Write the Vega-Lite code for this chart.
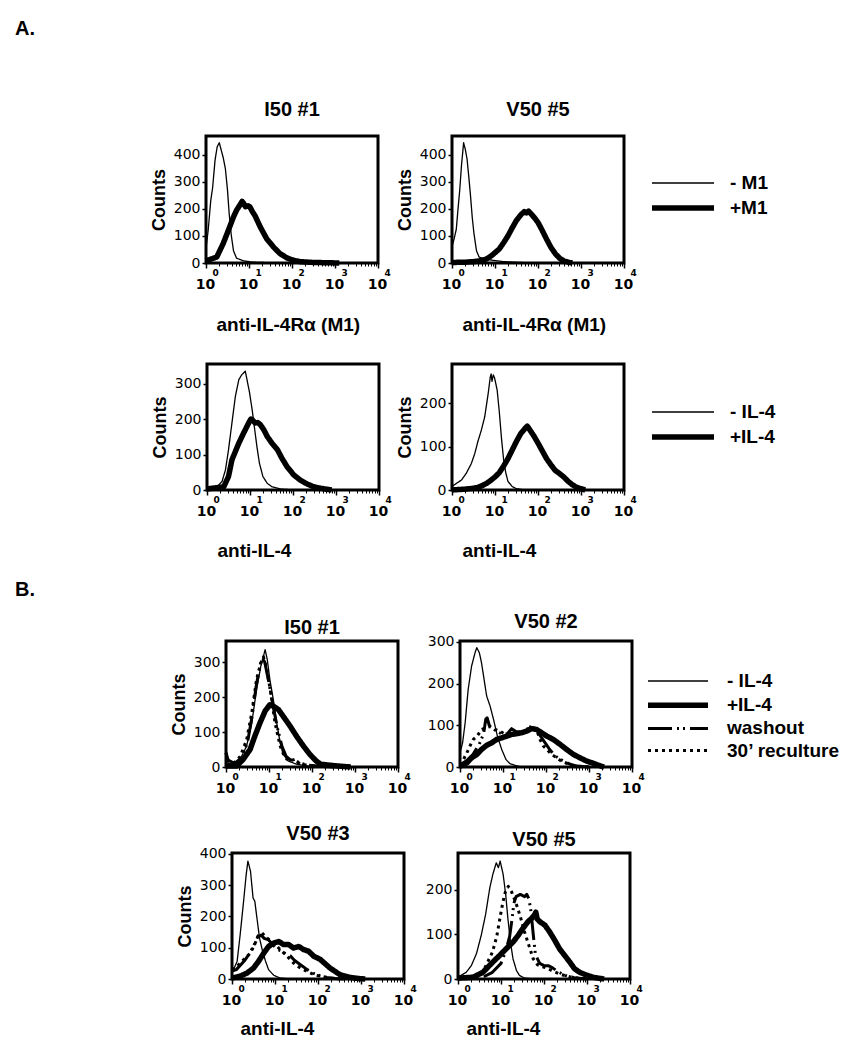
{
"$schema": "https://vega.github.io/schema/vega-lite/v6.json",
"padding": {"left": 15, "top": 19, "right": 5, "bottom": 5},
"background": "white",
"datasets": {
"a1": [
{"series":"- M1","decade":0,"count":55},{"series":"- M1","decade":0.05,"count":120},{"series":"- M1","decade":0.11,"count":230},{"series":"- M1","decade":0.155,"count":280},{"series":"- M1","decade":0.21,"count":380},{"series":"- M1","decade":0.26,"count":430},{"series":"- M1","decade":0.31,"count":445},{"series":"- M1","decade":0.35,"count":420},{"series":"- M1","decade":0.4,"count":390},{"series":"- M1","decade":0.45,"count":350},{"series":"- M1","decade":0.5,"count":270},{"series":"- M1","decade":0.54,"count":180},{"series":"- M1","decade":0.59,"count":100},{"series":"- M1","decade":0.64,"count":45},{"series":"- M1","decade":0.71,"count":18},{"series":"- M1","decade":0.87,"count":8},{"series":"- M1","decade":1.1,"count":3},{"series":"- M1","decade":1.5,"count":1},{"series":"- M1","decade":2,"count":0},{"series":"- M1","decade":3,"count":0},
{"series":"+M1","decade":0,"count":8},{"series":"+M1","decade":0.25,"count":22},{"series":"+M1","decade":0.4,"count":72},{"series":"+M1","decade":0.52,"count":121},{"series":"+M1","decade":0.64,"count":171},{"series":"+M1","decade":0.71,"count":195},{"series":"+M1","decade":0.79,"count":215},{"series":"+M1","decade":0.84,"count":228},{"series":"+M1","decade":0.87,"count":222},{"series":"+M1","decade":0.92,"count":208},{"series":"+M1","decade":0.98,"count":212},{"series":"+M1","decade":1.02,"count":208},{"series":"+M1","decade":1.08,"count":190},{"series":"+M1","decade":1.14,"count":175},{"series":"+M1","decade":1.26,"count":134},{"series":"+M1","decade":1.41,"count":90},{"series":"+M1","decade":1.57,"count":59},{"series":"+M1","decade":1.72,"count":35},{"series":"+M1","decade":1.88,"count":19},{"series":"+M1","decade":2.03,"count":10},{"series":"+M1","decade":2.19,"count":5},{"series":"+M1","decade":2.5,"count":2},{"series":"+M1","decade":3.1,"count":0}
],
"a2": [
{"series":"- M1","decade":0,"count":60},{"series":"- M1","decade":0.05,"count":90},{"series":"- M1","decade":0.1,"count":125},{"series":"- M1","decade":0.14,"count":200},{"series":"- M1","decade":0.18,"count":270},{"series":"- M1","decade":0.22,"count":360},{"series":"- M1","decade":0.27,"count":445},{"series":"- M1","decade":0.31,"count":420},{"series":"- M1","decade":0.35,"count":385},{"series":"- M1","decade":0.39,"count":320},{"series":"- M1","decade":0.43,"count":250},{"series":"- M1","decade":0.47,"count":170},{"series":"- M1","decade":0.51,"count":110},{"series":"- M1","decade":0.57,"count":45},{"series":"- M1","decade":0.63,"count":22},{"series":"- M1","decade":0.76,"count":15},{"series":"- M1","decade":0.95,"count":10},{"series":"- M1","decade":1.2,"count":5},{"series":"- M1","decade":1.6,"count":2},{"series":"- M1","decade":2,"count":0},
{"series":"+M1","decade":0,"count":2},{"series":"+M1","decade":0.3,"count":3},{"series":"+M1","decade":0.5,"count":5},{"series":"+M1","decade":0.6,"count":7},{"series":"+M1","decade":0.7,"count":9},{"series":"+M1","decade":0.8,"count":15},{"series":"+M1","decade":0.9,"count":25},{"series":"+M1","decade":1.0,"count":38},{"series":"+M1","decade":1.1,"count":52},{"series":"+M1","decade":1.2,"count":75},{"series":"+M1","decade":1.3,"count":100},{"series":"+M1","decade":1.4,"count":130},{"series":"+M1","decade":1.5,"count":158},{"series":"+M1","decade":1.6,"count":178},{"series":"+M1","decade":1.68,"count":190},{"series":"+M1","decade":1.73,"count":185},{"series":"+M1","decade":1.78,"count":192},{"series":"+M1","decade":1.85,"count":180},{"series":"+M1","decade":1.93,"count":165},{"series":"+M1","decade":2.0,"count":150},{"series":"+M1","decade":2.1,"count":120},{"series":"+M1","decade":2.2,"count":88},{"series":"+M1","decade":2.3,"count":58},{"series":"+M1","decade":2.4,"count":35},{"series":"+M1","decade":2.5,"count":18},{"series":"+M1","decade":2.6,"count":8},{"series":"+M1","decade":2.7,"count":3},{"series":"+M1","decade":2.8,"count":0}
],
"a3": [
{"series":"- IL-4","decade":0,"count":5},{"series":"- IL-4","decade":0.23,"count":9},{"series":"- IL-4","decade":0.35,"count":24},{"series":"- IL-4","decade":0.43,"count":57},{"series":"- IL-4","decade":0.5,"count":113},{"series":"- IL-4","decade":0.58,"count":189},{"series":"- IL-4","decade":0.66,"count":264},{"series":"- IL-4","decade":0.74,"count":311},{"series":"- IL-4","decade":0.81,"count":325},{"series":"- IL-4","decade":0.87,"count":332},{"series":"- IL-4","decade":0.89,"count":335},{"series":"- IL-4","decade":0.93,"count":311},{"series":"- IL-4","decade":0.99,"count":274},{"series":"- IL-4","decade":1.05,"count":226},{"series":"- IL-4","decade":1.1,"count":179},{"series":"- IL-4","decade":1.16,"count":123},{"series":"- IL-4","decade":1.22,"count":75},{"series":"- IL-4","decade":1.3,"count":38},{"series":"- IL-4","decade":1.4,"count":19},{"series":"- IL-4","decade":1.51,"count":9},{"series":"- IL-4","decade":1.7,"count":3},{"series":"- IL-4","decade":2,"count":0},
{"series":"+IL-4","decade":0,"count":3},{"series":"+IL-4","decade":0.39,"count":9},{"series":"+IL-4","decade":0.5,"count":38},{"series":"+IL-4","decade":0.58,"count":85},{"series":"+IL-4","decade":0.74,"count":132},{"series":"+IL-4","decade":0.85,"count":160},{"series":"+IL-4","decade":0.97,"count":189},{"series":"+IL-4","decade":1.02,"count":200},{"series":"+IL-4","decade":1.05,"count":198},{"series":"+IL-4","decade":1.12,"count":189},{"series":"+IL-4","decade":1.18,"count":190},{"series":"+IL-4","decade":1.24,"count":184},{"series":"+IL-4","decade":1.32,"count":170},{"series":"+IL-4","decade":1.4,"count":151},{"series":"+IL-4","decade":1.51,"count":132},{"series":"+IL-4","decade":1.64,"count":113},{"series":"+IL-4","decade":1.74,"count":90},{"series":"+IL-4","decade":1.86,"count":66},{"series":"+IL-4","decade":2.02,"count":42},{"series":"+IL-4","decade":2.17,"count":28},{"series":"+IL-4","decade":2.33,"count":17},{"series":"+IL-4","decade":2.48,"count":9},{"series":"+IL-4","decade":2.64,"count":5},{"series":"+IL-4","decade":2.9,"count":0}
],
"a4": [
{"series":"- IL-4","decade":0,"count":8},{"series":"- IL-4","decade":0.1,"count":15},{"series":"- IL-4","decade":0.22,"count":23},{"series":"- IL-4","decade":0.33,"count":38},{"series":"- IL-4","decade":0.45,"count":61},{"series":"- IL-4","decade":0.53,"count":84},{"series":"- IL-4","decade":0.6,"count":111},{"series":"- IL-4","decade":0.68,"count":137},{"series":"- IL-4","decade":0.76,"count":168},{"series":"- IL-4","decade":0.84,"count":221},{"series":"- IL-4","decade":0.89,"count":260},{"series":"- IL-4","decade":0.91,"count":267},{"series":"- IL-4","decade":0.93,"count":250},{"series":"- IL-4","decade":0.96,"count":265},{"series":"- IL-4","decade":0.99,"count":258},{"series":"- IL-4","decade":1.05,"count":230},{"series":"- IL-4","decade":1.1,"count":180},{"series":"- IL-4","decade":1.15,"count":120},{"series":"- IL-4","decade":1.2,"count":70},{"series":"- IL-4","decade":1.25,"count":40},{"series":"- IL-4","decade":1.3,"count":20},{"series":"- IL-4","decade":1.4,"count":8},{"series":"- IL-4","decade":1.5,"count":3},{"series":"- IL-4","decade":1.7,"count":0},
{"series":"+IL-4","decade":0,"count":0},{"series":"+IL-4","decade":0.3,"count":2},{"series":"+IL-4","decade":0.5,"count":4},{"series":"+IL-4","decade":0.6,"count":6},{"series":"+IL-4","decade":0.7,"count":10},{"series":"+IL-4","decade":0.8,"count":15},{"series":"+IL-4","decade":0.9,"count":22},{"series":"+IL-4","decade":1.0,"count":30},{"series":"+IL-4","decade":1.1,"count":40},{"series":"+IL-4","decade":1.2,"count":55},{"series":"+IL-4","decade":1.3,"count":72},{"series":"+IL-4","decade":1.4,"count":92},{"series":"+IL-4","decade":1.5,"count":112},{"series":"+IL-4","decade":1.6,"count":130},{"series":"+IL-4","decade":1.7,"count":142},{"series":"+IL-4","decade":1.75,"count":147},{"series":"+IL-4","decade":1.8,"count":140},{"series":"+IL-4","decade":1.9,"count":125},{"series":"+IL-4","decade":2.0,"count":108},{"series":"+IL-4","decade":2.1,"count":90},{"series":"+IL-4","decade":2.2,"count":72},{"series":"+IL-4","decade":2.3,"count":58},{"series":"+IL-4","decade":2.4,"count":45},{"series":"+IL-4","decade":2.5,"count":38},{"series":"+IL-4","decade":2.6,"count":30},{"series":"+IL-4","decade":2.7,"count":20},{"series":"+IL-4","decade":2.8,"count":12},{"series":"+IL-4","decade":2.9,"count":6},{"series":"+IL-4","decade":3.0,"count":3},{"series":"+IL-4","decade":3.1,"count":0}
],
"b1": [
{"series":"- IL-4","decade":0,"count":45},{"series":"- IL-4","decade":0.05,"count":10},{"series":"- IL-4","decade":0.2,"count":8},{"series":"- IL-4","decade":0.33,"count":22},{"series":"- IL-4","decade":0.48,"count":60},{"series":"- IL-4","decade":0.6,"count":126},{"series":"- IL-4","decade":0.71,"count":221},{"series":"- IL-4","decade":0.81,"count":288},{"series":"- IL-4","decade":0.87,"count":316},{"series":"- IL-4","decade":0.91,"count":335},{"series":"- IL-4","decade":0.96,"count":307},{"series":"- IL-4","decade":1.02,"count":250},{"series":"- IL-4","decade":1.1,"count":193},{"series":"- IL-4","decade":1.18,"count":126},{"series":"- IL-4","decade":1.26,"count":69},{"series":"- IL-4","decade":1.33,"count":36},{"series":"- IL-4","decade":1.45,"count":17},{"series":"- IL-4","decade":1.64,"count":8},{"series":"- IL-4","decade":1.88,"count":3},{"series":"- IL-4","decade":2.2,"count":0},
{"series":"+IL-4","decade":0,"count":3},{"series":"+IL-4","decade":0.25,"count":3},{"series":"+IL-4","decade":0.4,"count":22},{"series":"+IL-4","decade":0.56,"count":50},{"series":"+IL-4","decade":0.67,"count":88},{"series":"+IL-4","decade":0.79,"count":126},{"series":"+IL-4","decade":0.91,"count":160},{"series":"+IL-4","decade":1.02,"count":178},{"series":"+IL-4","decade":1.1,"count":174},{"series":"+IL-4","decade":1.22,"count":164},{"series":"+IL-4","decade":1.33,"count":145},{"series":"+IL-4","decade":1.49,"count":117},{"series":"+IL-4","decade":1.64,"count":88},{"series":"+IL-4","decade":1.8,"count":60},{"series":"+IL-4","decade":1.95,"count":36},{"series":"+IL-4","decade":2.1,"count":17},{"series":"+IL-4","decade":2.2,"count":8},{"series":"+IL-4","decade":2.5,"count":4},{"series":"+IL-4","decade":2.9,"count":0},
{"series":"washout","decade":0,"count":40},{"series":"washout","decade":0.05,"count":20},{"series":"washout","decade":0.2,"count":10},{"series":"washout","decade":0.35,"count":25},{"series":"washout","decade":0.5,"count":70},{"series":"washout","decade":0.6,"count":140},{"series":"washout","decade":0.7,"count":230},{"series":"washout","decade":0.8,"count":295},{"series":"washout","decade":0.85,"count":310},{"series":"washout","decade":0.9,"count":300},{"series":"washout","decade":1.0,"count":240},{"series":"washout","decade":1.1,"count":170},{"series":"washout","decade":1.2,"count":110},{"series":"washout","decade":1.3,"count":60},{"series":"washout","decade":1.4,"count":30},{"series":"washout","decade":1.5,"count":20},{"series":"washout","decade":1.6,"count":20},{"series":"washout","decade":1.7,"count":12},{"series":"washout","decade":1.9,"count":5},{"series":"washout","decade":2.2,"count":2},{"series":"washout","decade":2.5,"count":0},
{"series":"30’ reculture","decade":0,"count":40},{"series":"30’ reculture","decade":0.05,"count":18},{"series":"30’ reculture","decade":0.17,"count":10},{"series":"30’ reculture","decade":0.33,"count":30},{"series":"30’ reculture","decade":0.48,"count":78},{"series":"30’ reculture","decade":0.6,"count":155},{"series":"30’ reculture","decade":0.71,"count":250},{"series":"30’ reculture","decade":0.81,"count":297},{"series":"30’ reculture","decade":0.87,"count":315},{"series":"30’ reculture","decade":0.94,"count":285},{"series":"30’ reculture","decade":1.04,"count":212},{"series":"30’ reculture","decade":1.14,"count":126},{"series":"30’ reculture","decade":1.26,"count":60},{"series":"30’ reculture","decade":1.37,"count":27},{"series":"30’ reculture","decade":1.48,"count":17},{"series":"30’ reculture","decade":1.6,"count":22},{"series":"30’ reculture","decade":1.72,"count":8},{"series":"30’ reculture","decade":2.03,"count":3},{"series":"30’ reculture","decade":2.3,"count":0}
],
"b2": [
{"series":"- IL-4","decade":0,"count":34},{"series":"- IL-4","decade":0.06,"count":58},{"series":"- IL-4","decade":0.12,"count":106},{"series":"- IL-4","decade":0.19,"count":186},{"series":"- IL-4","decade":0.27,"count":242},{"series":"- IL-4","decade":0.35,"count":274},{"series":"- IL-4","decade":0.39,"count":286},{"series":"- IL-4","decade":0.45,"count":274},{"series":"- IL-4","decade":0.5,"count":250},{"series":"- IL-4","decade":0.56,"count":210},{"series":"- IL-4","decade":0.62,"count":170},{"series":"- IL-4","decade":0.7,"count":146},{"series":"- IL-4","decade":0.78,"count":114},{"series":"- IL-4","decade":0.87,"count":74},{"series":"- IL-4","decade":0.97,"count":42},{"series":"- IL-4","decade":1.07,"count":18},{"series":"- IL-4","decade":1.16,"count":8},{"series":"- IL-4","decade":1.28,"count":4},{"series":"- IL-4","decade":1.4,"count":1},{"series":"- IL-4","decade":1.6,"count":0},
{"series":"+IL-4","decade":0,"count":2},{"series":"+IL-4","decade":0.16,"count":10},{"series":"+IL-4","decade":0.27,"count":22},{"series":"+IL-4","decade":0.39,"count":30},{"series":"+IL-4","decade":0.5,"count":42},{"series":"+IL-4","decade":0.62,"count":52},{"series":"+IL-4","decade":0.74,"count":58},{"series":"+IL-4","decade":0.85,"count":66},{"series":"+IL-4","decade":0.97,"count":70},{"series":"+IL-4","decade":1.09,"count":74},{"series":"+IL-4","decade":1.2,"count":78},{"series":"+IL-4","decade":1.32,"count":80},{"series":"+IL-4","decade":1.43,"count":82},{"series":"+IL-4","decade":1.55,"count":86},{"series":"+IL-4","decade":1.67,"count":92},{"series":"+IL-4","decade":1.78,"count":90},{"series":"+IL-4","decade":1.9,"count":82},{"series":"+IL-4","decade":2.02,"count":74},{"series":"+IL-4","decade":2.17,"count":66},{"series":"+IL-4","decade":2.33,"count":54},{"series":"+IL-4","decade":2.48,"count":42},{"series":"+IL-4","decade":2.64,"count":30},{"series":"+IL-4","decade":2.79,"count":22},{"series":"+IL-4","decade":2.95,"count":14},{"series":"+IL-4","decade":3.1,"count":9},{"series":"+IL-4","decade":3.22,"count":4},{"series":"+IL-4","decade":3.35,"count":0},
{"series":"washout","decade":0,"count":5},{"series":"washout","decade":0.15,"count":15},{"series":"washout","decade":0.3,"count":30},{"series":"washout","decade":0.45,"count":55},{"series":"washout","decade":0.55,"count":80},{"series":"washout","decade":0.6,"count":115},{"series":"washout","decade":0.63,"count":118},{"series":"washout","decade":0.68,"count":100},{"series":"washout","decade":0.75,"count":95},{"series":"washout","decade":0.85,"count":85},{"series":"washout","decade":1.0,"count":78},{"series":"washout","decade":1.1,"count":80},{"series":"washout","decade":1.2,"count":92},{"series":"washout","decade":1.3,"count":85},{"series":"washout","decade":1.45,"count":82},{"series":"washout","decade":1.6,"count":95},{"series":"washout","decade":1.7,"count":98},{"series":"washout","decade":1.8,"count":85},{"series":"washout","decade":1.9,"count":70},{"series":"washout","decade":2.0,"count":55},{"series":"washout","decade":2.1,"count":40},{"series":"washout","decade":2.2,"count":28},{"series":"washout","decade":2.3,"count":20},{"series":"washout","decade":2.45,"count":12},{"series":"washout","decade":2.6,"count":5},{"series":"washout","decade":2.75,"count":2},{"series":"washout","decade":3.0,"count":0},
{"series":"30’ reculture","decade":0,"count":5},{"series":"30’ reculture","decade":0.08,"count":18},{"series":"30’ reculture","decade":0.16,"count":34},{"series":"30’ reculture","decade":0.23,"count":50},{"series":"30’ reculture","decade":0.31,"count":66},{"series":"30’ reculture","decade":0.4,"count":74},{"series":"30’ reculture","decade":0.5,"count":90},{"series":"30’ reculture","decade":0.6,"count":94},{"series":"30’ reculture","decade":0.7,"count":97},{"series":"30’ reculture","decade":0.81,"count":90},{"series":"30’ reculture","decade":0.93,"count":86},{"series":"30’ reculture","decade":1.05,"count":78},{"series":"30’ reculture","decade":1.16,"count":82},{"series":"30’ reculture","decade":1.28,"count":78},{"series":"30’ reculture","decade":1.4,"count":82},{"series":"30’ reculture","decade":1.53,"count":90},{"series":"30’ reculture","decade":1.67,"count":94},{"series":"30’ reculture","decade":1.78,"count":90},{"series":"30’ reculture","decade":1.86,"count":66},{"series":"30’ reculture","decade":1.94,"count":50},{"series":"30’ reculture","decade":2.02,"count":42},{"series":"30’ reculture","decade":2.13,"count":30},{"series":"30’ reculture","decade":2.25,"count":22},{"series":"30’ reculture","decade":2.36,"count":14},{"series":"30’ reculture","decade":2.48,"count":9},{"series":"30’ reculture","decade":2.64,"count":4},{"series":"30’ reculture","decade":2.79,"count":2},{"series":"30’ reculture","decade":3.0,"count":0}
],
"b3": [
{"series":"- IL-4","decade":0,"count":20},{"series":"- IL-4","decade":0.02,"count":25},{"series":"- IL-4","decade":0.12,"count":57},{"series":"- IL-4","decade":0.19,"count":142},{"series":"- IL-4","decade":0.27,"count":249},{"series":"- IL-4","decade":0.33,"count":334},{"series":"- IL-4","decade":0.37,"count":377},{"series":"- IL-4","decade":0.43,"count":345},{"series":"- IL-4","decade":0.49,"count":259},{"series":"- IL-4","decade":0.53,"count":249},{"series":"- IL-4","decade":0.58,"count":195},{"series":"- IL-4","decade":0.64,"count":131},{"series":"- IL-4","decade":0.71,"count":89},{"series":"- IL-4","decade":0.78,"count":57},{"series":"- IL-4","decade":0.85,"count":30},{"series":"- IL-4","decade":0.97,"count":12},{"series":"- IL-4","decade":1.12,"count":3},{"series":"- IL-4","decade":1.36,"count":0},
{"series":"+IL-4","decade":0,"count":3},{"series":"+IL-4","decade":0.19,"count":9},{"series":"+IL-4","decade":0.35,"count":19},{"series":"+IL-4","decade":0.5,"count":35},{"series":"+IL-4","decade":0.62,"count":57},{"series":"+IL-4","decade":0.74,"count":83},{"series":"+IL-4","decade":0.85,"count":104},{"series":"+IL-4","decade":0.97,"count":115},{"series":"+IL-4","decade":1.09,"count":120},{"series":"+IL-4","decade":1.2,"count":110},{"series":"+IL-4","decade":1.32,"count":110},{"series":"+IL-4","decade":1.43,"count":99},{"series":"+IL-4","decade":1.55,"count":104},{"series":"+IL-4","decade":1.67,"count":94},{"series":"+IL-4","decade":1.78,"count":89},{"series":"+IL-4","decade":1.9,"count":73},{"series":"+IL-4","decade":2.05,"count":63},{"series":"+IL-4","decade":2.28,"count":35},{"series":"+IL-4","decade":2.51,"count":14},{"series":"+IL-4","decade":2.74,"count":5},{"series":"+IL-4","decade":2.98,"count":1},{"series":"+IL-4","decade":3.1,"count":0},
{"series":"washout","decade":0,"count":25},{"series":"washout","decade":0.1,"count":30},{"series":"washout","decade":0.2,"count":45},{"series":"washout","decade":0.3,"count":60},{"series":"washout","decade":0.4,"count":80},{"series":"washout","decade":0.5,"count":105},{"series":"washout","decade":0.6,"count":135},{"series":"washout","decade":0.68,"count":140},{"series":"washout","decade":0.75,"count":130},{"series":"washout","decade":0.85,"count":125},{"series":"washout","decade":0.95,"count":110},{"series":"washout","decade":1.05,"count":95},{"series":"washout","decade":1.15,"count":90},{"series":"washout","decade":1.25,"count":80},{"series":"washout","decade":1.35,"count":75},{"series":"washout","decade":1.45,"count":60},{"series":"washout","decade":1.6,"count":45},{"series":"washout","decade":1.75,"count":30},{"series":"washout","decade":1.9,"count":18},{"series":"washout","decade":2.05,"count":10},{"series":"washout","decade":2.2,"count":5},{"series":"washout","decade":2.4,"count":2},{"series":"washout","decade":2.6,"count":0},
{"series":"30’ reculture","decade":0,"count":30},{"series":"30’ reculture","decade":0.08,"count":35},{"series":"30’ reculture","decade":0.19,"count":51},{"series":"30’ reculture","decade":0.31,"count":67},{"series":"30’ reculture","decade":0.43,"count":83},{"series":"30’ reculture","decade":0.54,"count":115},{"series":"30’ reculture","decade":0.62,"count":142},{"series":"30’ reculture","decade":0.7,"count":147},{"series":"30’ reculture","decade":0.81,"count":131},{"series":"30’ reculture","decade":0.93,"count":120},{"series":"30’ reculture","decade":1.05,"count":104},{"series":"30’ reculture","decade":1.16,"count":89},{"series":"30’ reculture","decade":1.28,"count":73},{"series":"30’ reculture","decade":1.43,"count":51},{"series":"30’ reculture","decade":1.59,"count":35},{"series":"30’ reculture","decade":1.74,"count":25},{"series":"30’ reculture","decade":1.9,"count":14},{"series":"30’ reculture","decade":2.05,"count":9},{"series":"30’ reculture","decade":2.3,"count":3},{"series":"30’ reculture","decade":2.5,"count":0}
],
"b4": [
{"series":"- IL-4","decade":0,"count":4},{"series":"- IL-4","decade":0.19,"count":15},{"series":"- IL-4","decade":0.31,"count":30},{"series":"- IL-4","decade":0.43,"count":57},{"series":"- IL-4","decade":0.54,"count":98},{"series":"- IL-4","decade":0.64,"count":144},{"series":"- IL-4","decade":0.74,"count":205},{"series":"- IL-4","decade":0.81,"count":235},{"series":"- IL-4","decade":0.89,"count":261},{"series":"- IL-4","decade":0.94,"count":250},{"series":"- IL-4","decade":0.98,"count":265},{"series":"- IL-4","decade":1.05,"count":235},{"series":"- IL-4","decade":1.11,"count":189},{"series":"- IL-4","decade":1.16,"count":136},{"series":"- IL-4","decade":1.22,"count":83},{"series":"- IL-4","decade":1.28,"count":45},{"series":"- IL-4","decade":1.36,"count":19},{"series":"- IL-4","decade":1.43,"count":8},{"series":"- IL-4","decade":1.55,"count":2},{"series":"- IL-4","decade":1.8,"count":0},
{"series":"+IL-4","decade":0,"count":2},{"series":"+IL-4","decade":0.35,"count":4},{"series":"+IL-4","decade":0.58,"count":15},{"series":"+IL-4","decade":0.81,"count":38},{"series":"+IL-4","decade":0.97,"count":53},{"series":"+IL-4","decade":1.12,"count":68},{"series":"+IL-4","decade":1.28,"count":83},{"series":"+IL-4","decade":1.4,"count":98},{"series":"+IL-4","decade":1.51,"count":114},{"series":"+IL-4","decade":1.63,"count":129},{"series":"+IL-4","decade":1.71,"count":136},{"series":"+IL-4","decade":1.78,"count":144},{"series":"+IL-4","decade":1.81,"count":150},{"series":"+IL-4","decade":1.84,"count":135},{"series":"+IL-4","decade":1.9,"count":129},{"series":"+IL-4","decade":2.02,"count":121},{"series":"+IL-4","decade":2.13,"count":106},{"series":"+IL-4","decade":2.25,"count":87},{"series":"+IL-4","decade":2.36,"count":68},{"series":"+IL-4","decade":2.48,"count":53},{"series":"+IL-4","decade":2.6,"count":38},{"series":"+IL-4","decade":2.71,"count":23},{"series":"+IL-4","decade":2.83,"count":15},{"series":"+IL-4","decade":2.98,"count":9},{"series":"+IL-4","decade":3.14,"count":4},{"series":"+IL-4","decade":3.26,"count":2},{"series":"+IL-4","decade":3.4,"count":0},
{"series":"washout","decade":0.6,"count":5},{"series":"washout","decade":0.8,"count":15},{"series":"washout","decade":1.0,"count":35},{"series":"washout","decade":1.1,"count":60},{"series":"washout","decade":1.2,"count":95},{"series":"washout","decade":1.25,"count":130},{"series":"washout","decade":1.3,"count":170},{"series":"washout","decade":1.35,"count":185},{"series":"washout","decade":1.45,"count":190},{"series":"washout","decade":1.55,"count":185},{"series":"washout","decade":1.6,"count":190},{"series":"washout","decade":1.65,"count":180},{"series":"washout","decade":1.7,"count":150},{"series":"washout","decade":1.75,"count":100},{"series":"washout","decade":1.8,"count":55},{"series":"washout","decade":1.9,"count":35},{"series":"washout","decade":2.0,"count":30},{"series":"washout","decade":2.1,"count":30},{"series":"washout","decade":2.2,"count":25},{"series":"washout","decade":2.35,"count":15},{"series":"washout","decade":2.5,"count":8},{"series":"washout","decade":2.7,"count":3},{"series":"washout","decade":3.0,"count":0},
{"series":"30’ reculture","decade":0.4,"count":3},{"series":"30’ reculture","decade":0.5,"count":8},{"series":"30’ reculture","decade":0.6,"count":20},{"series":"30’ reculture","decade":0.7,"count":40},{"series":"30’ reculture","decade":0.8,"count":60},{"series":"30’ reculture","decade":0.9,"count":95},{"series":"30’ reculture","decade":1.0,"count":150},{"series":"30’ reculture","decade":1.05,"count":175},{"series":"30’ reculture","decade":1.1,"count":195},{"series":"30’ reculture","decade":1.17,"count":208},{"series":"30’ reculture","decade":1.25,"count":195},{"series":"30’ reculture","decade":1.35,"count":170},{"series":"30’ reculture","decade":1.45,"count":140},{"series":"30’ reculture","decade":1.55,"count":105},{"series":"30’ reculture","decade":1.65,"count":75},{"series":"30’ reculture","decade":1.75,"count":45},{"series":"30’ reculture","decade":1.85,"count":32},{"series":"30’ reculture","decade":1.95,"count":28},{"series":"30’ reculture","decade":2.05,"count":25},{"series":"30’ reculture","decade":2.2,"count":18},{"series":"30’ reculture","decade":2.4,"count":10},{"series":"30’ reculture","decade":2.6,"count":5},{"series":"30’ reculture","decade":2.8,"count":2},{"series":"30’ reculture","decade":3.0,"count":0}
]
},
"spacing": 0,
"resolve": {"scale": {"strokeDash": "independent", "strokeWidth": "independent"}, "legend": {"strokeDash": "independent", "strokeWidth": "independent"}},
"vconcat": [
{"hconcat": [
{"width": 191, "height": 226, "view": {"stroke": null}, "title": {"text": "A.", "anchor": "start", "frame": "group", "offset": 97}, "data": {"values": []}, "mark": "point"},
{"width": 172, "height": 127, "title": {"text": "I50 #1", "offset": 16}, "data": {"name": "a1"},
 "layer": [
  {"mark": {"type": "line", "color": "black", "strokeJoin": "round"},
   "encoding": {
    "x": {"field": "decade", "type": "quantitative", "scale": {"domain": [0, 4], "nice": false, "zero": false}, "axis": {"values": [0, 1, 2, 3, 4], "labelExpr": "'10'", "title": "anti-IL-4Rα (M1)", "titleX": 10, "titleY": 52}},
    "y": {"field": "count", "type": "quantitative", "scale": {"domain": [0, 470], "nice": false}, "axis": {"values": [0, 100, 200, 300, 400], "title": "Counts"}},
    "strokeDash": {"field": "series", "type": "nominal", "scale": {"domain": ["- M1", "+M1"], "range": [[1, 0], [1, 0]]}, "legend": null},
    "strokeWidth": {"field": "series", "type": "nominal", "scale": {"type": "ordinal", "domain": ["- M1", "+M1"], "range": [1.3, 5.5]}, "legend": null}}},
  {"mark": {"type": "line", "opacity": 0},
   "encoding": {
    "x": {"field": "decade", "type": "quantitative", "scale": {"domain": [0, 4], "nice": false, "zero": false}, "axis": {"orient": "bottom", "values": [0,0.301,0.477,0.602,0.699,0.778,0.845,0.903,0.954,1,1.301,1.477,1.602,1.699,1.778,1.845,1.903,1.954,2,2.301,2.477,2.602,2.699,2.778,2.845,2.903,2.954,3,3.301,3.477,3.602,3.699,3.778,3.845,3.903,3.954,4], "labelExpr": "datum.value % 1 == 0 ? '' + datum.value : ''", "labelFontSize": 9, "labelPadding": 2, "labelOffset": 9, "tickSize": 3, "tickWidth": 1, "title": null}},
    "y": {"field": "count", "type": "quantitative", "axis": {"values": [0, 100, 200, 300, 400], "title": "Counts"}},
    "detail": {"field": "series"}}}
 ],
 "resolve": {"axis": {"x": "independent"}}},
{"width": 74, "height": 1, "view": {"stroke": null}, "data": {"values": []}, "mark": "point"},
{"width": 172, "height": 127, "title": {"text": "V50 #5", "offset": 16}, "data": {"name": "a2"},
 "layer": [
  {"mark": {"type": "line", "color": "black", "strokeJoin": "round"},
   "encoding": {
    "x": {"field": "decade", "type": "quantitative", "scale": {"domain": [0, 4], "nice": false, "zero": false}, "axis": {"values": [0, 1, 2, 3, 4], "labelExpr": "'10'", "title": "anti-IL-4Rα (M1)", "titleX": 10, "titleY": 52}},
    "y": {"field": "count", "type": "quantitative", "scale": {"domain": [0, 470], "nice": false}, "axis": {"values": [0, 100, 200, 300, 400], "title": "Counts"}},
    "strokeDash": {"field": "series", "type": "nominal", "scale": {"domain": ["- M1", "+M1"], "range": [[1, 0], [1, 0]]}, "legend": {"orient": "none", "legendX": 200, "legendY": 37.5, "title": null, "symbolType": "M-1.583,0H8.75", "labelOffset": 59, "rowPadding": 3}},
    "strokeWidth": {"field": "series", "type": "nominal", "scale": {"type": "ordinal", "domain": ["- M1", "+M1"], "range": [1.3, 5.5]}, "legend": {"orient": "none", "legendX": 200, "legendY": 37.5, "title": null, "symbolType": "M-1.583,0H8.75", "labelOffset": 59, "rowPadding": 3}}}},
  {"mark": {"type": "line", "opacity": 0},
   "encoding": {
    "x": {"field": "decade", "type": "quantitative", "scale": {"domain": [0, 4], "nice": false, "zero": false}, "axis": {"orient": "bottom", "values": [0,0.301,0.477,0.602,0.699,0.778,0.845,0.903,0.954,1,1.301,1.477,1.602,1.699,1.778,1.845,1.903,1.954,2,2.301,2.477,2.602,2.699,2.778,2.845,2.903,2.954,3,3.301,3.477,3.602,3.699,3.778,3.845,3.903,3.954,4], "labelExpr": "datum.value % 1 == 0 ? '' + datum.value : ''", "labelFontSize": 9, "labelPadding": 2, "labelOffset": 9, "tickSize": 3, "tickWidth": 1, "title": null}},
    "y": {"field": "count", "type": "quantitative", "axis": {"values": [0, 100, 200, 300, 400], "title": "Counts"}},
    "detail": {"field": "series"}}}
 ],
 "resolve": {"axis": {"x": "independent"}}}
], "spacing": 0, "bounds": "flush", "resolve": {"scale": {"strokeDash": "independent", "strokeWidth": "independent"}, "legend": {"strokeDash": "independent", "strokeWidth": "independent"}}},

{"hconcat": [
{"width": 192, "height": 216, "view": {"stroke": null}, "data": {"values": []}, "mark": "point"},
{"width": 172, "height": 126, "data": {"name": "a3"},
 "layer": [
  {"mark": {"type": "line", "color": "black", "strokeJoin": "round"},
   "encoding": {
    "x": {"field": "decade", "type": "quantitative", "scale": {"domain": [0, 4], "nice": false, "zero": false}, "axis": {"values": [0, 1, 2, 3, 4], "labelExpr": "'10'", "title": "anti-IL-4", "titleX": 10, "titleY": 51}},
    "y": {"field": "count", "type": "quantitative", "scale": {"domain": [0, 355], "nice": false}, "axis": {"values": [0, 100, 200, 300], "title": "Counts"}},
    "strokeDash": {"field": "series", "type": "nominal", "scale": {"domain": ["- IL-4", "+IL-4"], "range": [[1, 0], [1, 0]]}, "legend": null},
    "strokeWidth": {"field": "series", "type": "nominal", "scale": {"type": "ordinal", "domain": ["- IL-4", "+IL-4"], "range": [1.3, 5.5]}, "legend": null}}},
  {"mark": {"type": "line", "opacity": 0},
   "encoding": {
    "x": {"field": "decade", "type": "quantitative", "scale": {"domain": [0, 4], "nice": false, "zero": false}, "axis": {"orient": "bottom", "values": [0,0.301,0.477,0.602,0.699,0.778,0.845,0.903,0.954,1,1.301,1.477,1.602,1.699,1.778,1.845,1.903,1.954,2,2.301,2.477,2.602,2.699,2.778,2.845,2.903,2.954,3,3.301,3.477,3.602,3.699,3.778,3.845,3.903,3.954,4], "labelExpr": "datum.value % 1 == 0 ? '' + datum.value : ''", "labelFontSize": 9, "labelPadding": 2, "labelOffset": 9, "tickSize": 3, "tickWidth": 1, "title": null}},
    "y": {"field": "count", "type": "quantitative", "axis": {"values": [0, 100, 200, 300], "title": "Counts"}},
    "detail": {"field": "series"}}}
 ],
 "resolve": {"axis": {"x": "independent"}}},
{"width": 73, "height": 1, "view": {"stroke": null}, "data": {"values": []}, "mark": "point"},
{"width": 172, "height": 126, "data": {"name": "a4"},
 "layer": [
  {"mark": {"type": "line", "color": "black", "strokeJoin": "round"},
   "encoding": {
    "x": {"field": "decade", "type": "quantitative", "scale": {"domain": [0, 4], "nice": false, "zero": false}, "axis": {"values": [0, 1, 2, 3, 4], "labelExpr": "'10'", "title": "anti-IL-4", "titleX": 10, "titleY": 51}},
    "y": {"field": "count", "type": "quantitative", "scale": {"domain": [0, 290], "nice": false}, "axis": {"values": [0, 100, 200], "title": "Counts"}},
    "strokeDash": {"field": "series", "type": "nominal", "scale": {"domain": ["- IL-4", "+IL-4"], "range": [[1, 0], [1, 0]]}, "legend": {"orient": "none", "legendX": 200, "legendY": 38.5, "title": null, "symbolType": "M-1.583,0H8.75", "labelOffset": 59, "rowPadding": 3}},
    "strokeWidth": {"field": "series", "type": "nominal", "scale": {"type": "ordinal", "domain": ["- IL-4", "+IL-4"], "range": [1.3, 5.5]}, "legend": {"orient": "none", "legendX": 200, "legendY": 38.5, "title": null, "symbolType": "M-1.583,0H8.75", "labelOffset": 59, "rowPadding": 3}}}},
  {"mark": {"type": "line", "opacity": 0},
   "encoding": {
    "x": {"field": "decade", "type": "quantitative", "scale": {"domain": [0, 4], "nice": false, "zero": false}, "axis": {"orient": "bottom", "values": [0,0.301,0.477,0.602,0.699,0.778,0.845,0.903,0.954,1,1.301,1.477,1.602,1.699,1.778,1.845,1.903,1.954,2,2.301,2.477,2.602,2.699,2.778,2.845,2.903,2.954,3,3.301,3.477,3.602,3.699,3.778,3.845,3.903,3.954,4], "labelExpr": "datum.value % 1 == 0 ? '' + datum.value : ''", "labelFontSize": 9, "labelPadding": 2, "labelOffset": 9, "tickSize": 3, "tickWidth": 1, "title": null}},
    "y": {"field": "count", "type": "quantitative", "axis": {"values": [0, 100, 200], "title": "Counts"}},
    "detail": {"field": "series"}}}
 ],
 "resolve": {"axis": {"x": "independent"}}}
], "spacing": 0, "bounds": "flush", "resolve": {"scale": {"strokeDash": "independent", "strokeWidth": "independent"}, "legend": {"strokeDash": "independent", "strokeWidth": "independent"}}},

{"hconcat": [
{"width": 211, "height": 181, "view": {"stroke": null}, "title": {"text": "B.", "anchor": "start", "frame": "group", "offset": 41}, "data": {"values": []}, "mark": "point"},
{"width": 172, "height": 126, "title": {"text": "I50 #1", "offset": 3}, "data": {"name": "b1"},
 "layer": [
  {"mark": {"type": "line", "color": "black", "strokeJoin": "round"},
   "encoding": {
    "x": {"field": "decade", "type": "quantitative", "scale": {"domain": [0, 4], "nice": false, "zero": false}, "axis": {"values": [0, 1, 2, 3, 4], "labelExpr": "'10'", "title": null}},
    "y": {"field": "count", "type": "quantitative", "scale": {"domain": [0, 360], "nice": false}, "axis": {"values": [0, 100, 200, 300], "title": "Counts"}},
    "strokeDash": {"field": "series", "type": "nominal", "scale": {"domain": ["- IL-4", "+IL-4", "washout", "30’ reculture"], "range": [[1, 0], [1, 0], [24, 5, 2, 4, 2, 5], [3, 4]]}, "legend": null},
    "strokeWidth": {"field": "series", "type": "nominal", "scale": {"type": "ordinal", "domain": ["- IL-4", "+IL-4", "washout", "30’ reculture"], "range": [1.3, 5.5, 3, 3]}, "legend": null}}},
  {"mark": {"type": "line", "opacity": 0},
   "encoding": {
    "x": {"field": "decade", "type": "quantitative", "scale": {"domain": [0, 4], "nice": false, "zero": false}, "axis": {"orient": "bottom", "values": [0,0.301,0.477,0.602,0.699,0.778,0.845,0.903,0.954,1,1.301,1.477,1.602,1.699,1.778,1.845,1.903,1.954,2,2.301,2.477,2.602,2.699,2.778,2.845,2.903,2.954,3,3.301,3.477,3.602,3.699,3.778,3.845,3.903,3.954,4], "labelExpr": "datum.value % 1 == 0 ? '' + datum.value : ''", "labelFontSize": 9, "labelPadding": 2, "labelOffset": 9, "tickSize": 3, "tickWidth": 1, "title": null}},
    "y": {"field": "count", "type": "quantitative", "axis": {"values": [0, 100, 200, 300], "title": "Counts"}},
    "detail": {"field": "series"}}}
 ],
 "resolve": {"axis": {"x": "independent"}}},
{"width": 62, "height": 1, "view": {"stroke": null}, "data": {"values": []}, "mark": "point"},
{"width": 172, "height": 126, "title": {"text": "V50 #2", "offset": 3}, "data": {"name": "b2"},
 "layer": [
  {"mark": {"type": "line", "color": "black", "strokeJoin": "round"},
   "encoding": {
    "x": {"field": "decade", "type": "quantitative", "scale": {"domain": [0, 4], "nice": false, "zero": false}, "axis": {"values": [0, 1, 2, 3, 4], "labelExpr": "'10'", "title": null}},
    "y": {"field": "count", "type": "quantitative", "scale": {"domain": [0, 302], "nice": false}, "axis": {"values": [0, 100, 200, 300], "title": null}},
    "strokeDash": {"field": "series", "type": "nominal", "scale": {"domain": ["- IL-4", "+IL-4", "washout", "30’ reculture"], "range": [[1, 0], [1, 0], [24, 5, 2, 4, 2, 5], [3, 4]]}, "legend": {"orient": "none", "legendX": 188, "legendY": 30.5, "title": null, "symbolType": "M-1.583,0H8.417", "labelOffset": 60, "rowPadding": 2.2}},
    "strokeWidth": {"field": "series", "type": "nominal", "scale": {"type": "ordinal", "domain": ["- IL-4", "+IL-4", "washout", "30’ reculture"], "range": [1.3, 5.5, 3, 3]}, "legend": {"orient": "none", "legendX": 188, "legendY": 30.5, "title": null, "symbolType": "M-1.583,0H8.417", "labelOffset": 60, "rowPadding": 2.2}}}},
  {"mark": {"type": "line", "opacity": 0},
   "encoding": {
    "x": {"field": "decade", "type": "quantitative", "scale": {"domain": [0, 4], "nice": false, "zero": false}, "axis": {"orient": "bottom", "values": [0,0.301,0.477,0.602,0.699,0.778,0.845,0.903,0.954,1,1.301,1.477,1.602,1.699,1.778,1.845,1.903,1.954,2,2.301,2.477,2.602,2.699,2.778,2.845,2.903,2.954,3,3.301,3.477,3.602,3.699,3.778,3.845,3.903,3.954,4], "labelExpr": "datum.value % 1 == 0 ? '' + datum.value : ''", "labelFontSize": 9, "labelPadding": 2, "labelOffset": 9, "tickSize": 3, "tickWidth": 1, "title": null}},
    "y": {"field": "count", "type": "quantitative", "axis": {"values": [0, 100, 200, 300], "title": null}},
    "detail": {"field": "series"}}}
 ],
 "resolve": {"axis": {"x": "independent"}}}
], "spacing": 0, "bounds": "flush", "resolve": {"scale": {"strokeDash": "independent", "strokeWidth": "independent"}, "legend": {"strokeDash": "independent", "strokeWidth": "independent"}}},

{"hconcat": [
{"width": 217, "height": 126, "view": {"stroke": null}, "data": {"values": []}, "mark": "point"},
{"width": 172, "height": 126, "title": {"text": "V50 #3", "offset": 3}, "data": {"name": "b3"},
 "layer": [
  {"mark": {"type": "line", "color": "black", "strokeJoin": "round"},
   "encoding": {
    "x": {"field": "decade", "type": "quantitative", "scale": {"domain": [0, 4], "nice": false, "zero": false}, "axis": {"values": [0, 1, 2, 3, 4], "labelExpr": "'10'", "title": "anti-IL-4", "titleX": 8, "titleY": 40}},
    "y": {"field": "count", "type": "quantitative", "scale": {"domain": [0, 403], "nice": false}, "axis": {"values": [0, 100, 200, 300, 400], "title": "Counts"}},
    "strokeDash": {"field": "series", "type": "nominal", "scale": {"domain": ["- IL-4", "+IL-4", "washout", "30’ reculture"], "range": [[1, 0], [1, 0], [24, 5, 2, 4, 2, 5], [3, 4]]}, "legend": null},
    "strokeWidth": {"field": "series", "type": "nominal", "scale": {"type": "ordinal", "domain": ["- IL-4", "+IL-4", "washout", "30’ reculture"], "range": [1.3, 5.5, 3, 3]}, "legend": null}}},
  {"mark": {"type": "line", "opacity": 0},
   "encoding": {
    "x": {"field": "decade", "type": "quantitative", "scale": {"domain": [0, 4], "nice": false, "zero": false}, "axis": {"orient": "bottom", "values": [0,0.301,0.477,0.602,0.699,0.778,0.845,0.903,0.954,1,1.301,1.477,1.602,1.699,1.778,1.845,1.903,1.954,2,2.301,2.477,2.602,2.699,2.778,2.845,2.903,2.954,3,3.301,3.477,3.602,3.699,3.778,3.845,3.903,3.954,4], "labelExpr": "datum.value % 1 == 0 ? '' + datum.value : ''", "labelFontSize": 9, "labelPadding": 2, "labelOffset": 9, "tickSize": 3, "tickWidth": 1, "title": null}},
    "y": {"field": "count", "type": "quantitative", "axis": {"values": [0, 100, 200, 300, 400], "title": "Counts"}},
    "detail": {"field": "series"}}}
 ],
 "resolve": {"axis": {"x": "independent"}}},
{"width": 54, "height": 1, "view": {"stroke": null}, "data": {"values": []}, "mark": "point"},
{"width": 172, "height": 126, "title": {"text": "V50 #5", "offset": 3}, "data": {"name": "b4"},
 "layer": [
  {"mark": {"type": "line", "color": "black", "strokeJoin": "round"},
   "encoding": {
    "x": {"field": "decade", "type": "quantitative", "scale": {"domain": [0, 4], "nice": false, "zero": false}, "axis": {"values": [0, 1, 2, 3, 4], "labelExpr": "'10'", "title": "anti-IL-4", "titleX": 8, "titleY": 40}},
    "y": {"field": "count", "type": "quantitative", "scale": {"domain": [0, 283], "nice": false}, "axis": {"values": [0, 100, 200], "title": null}},
    "strokeDash": {"field": "series", "type": "nominal", "scale": {"domain": ["- IL-4", "+IL-4", "washout", "30’ reculture"], "range": [[1, 0], [1, 0], [24, 5, 2, 4, 2, 5], [3, 4]]}, "legend": null},
    "strokeWidth": {"field": "series", "type": "nominal", "scale": {"type": "ordinal", "domain": ["- IL-4", "+IL-4", "washout", "30’ reculture"], "range": [1.3, 5.5, 3, 3]}, "legend": null}}},
  {"mark": {"type": "line", "opacity": 0},
   "encoding": {
    "x": {"field": "decade", "type": "quantitative", "scale": {"domain": [0, 4], "nice": false, "zero": false}, "axis": {"orient": "bottom", "values": [0,0.301,0.477,0.602,0.699,0.778,0.845,0.903,0.954,1,1.301,1.477,1.602,1.699,1.778,1.845,1.903,1.954,2,2.301,2.477,2.602,2.699,2.778,2.845,2.903,2.954,3,3.301,3.477,3.602,3.699,3.778,3.845,3.903,3.954,4], "labelExpr": "datum.value % 1 == 0 ? '' + datum.value : ''", "labelFontSize": 9, "labelPadding": 2, "labelOffset": 9, "tickSize": 3, "tickWidth": 1, "title": null}},
    "y": {"field": "count", "type": "quantitative", "axis": {"values": [0, 100, 200], "title": null}},
    "detail": {"field": "series"}}}
 ],
 "resolve": {"axis": {"x": "independent"}}}
], "spacing": 0, "bounds": "flush", "resolve": {"scale": {"strokeDash": "independent", "strokeWidth": "independent"}, "legend": {"strokeDash": "independent", "strokeWidth": "independent"}}}
],
"config": {
 "font": "Liberation Sans",
 "view": {"stroke": "black", "strokeWidth": 3},
 "title": {"font": "Liberation Sans", "fontSize": 20, "fontWeight": "bold", "color": "black"},
 "axis": {"grid": false, "domain": false, "labelColor": "black", "tickColor": "black", "titleColor": "black", "titleFont": "Liberation Sans", "titleFontWeight": "bold", "labelFlush": false, "labelOverlap": false},
 "axisX": {"labelFont": "DejaVu Sans", "labelFontWeight": "bold", "labelFontSize": 14, "labelPadding": 9, "labelOffset": -1, "tickSize": 5, "tickWidth": 1.5, "titleFontSize": 19, "titlePadding": 25, "titleAlign": "left", "titleBaseline": "top"},
 "axisY": {"labelFont": "DejaVu Sans", "labelFontWeight": "normal", "labelFontSize": 14, "labelPadding": 2, "tickSize": 4, "tickWidth": 1.5, "titleFontSize": 18, "titlePadding": 5},
 "legend": {"labelFont": "Liberation Sans", "labelFontSize": 19, "labelFontWeight": "bold", "labelColor": "black", "padding": 0, "rowPadding": 5, "symbolStrokeColor": "black", "symbolSize": 144}
}
}
